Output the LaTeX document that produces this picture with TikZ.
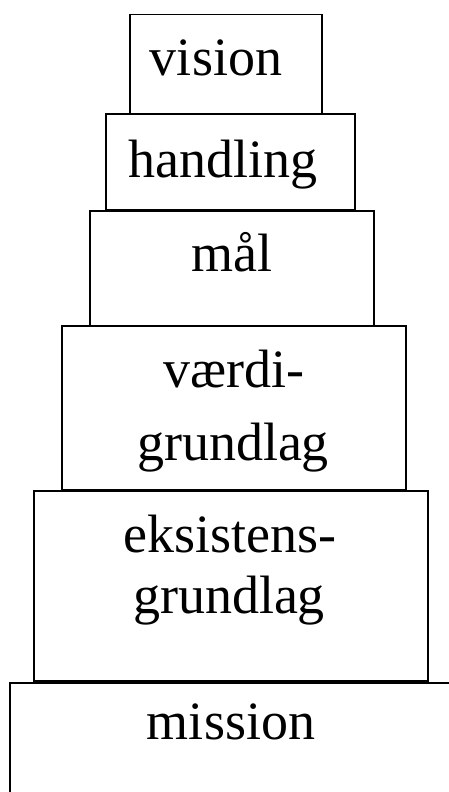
\documentclass[tikz,border=0pt]{standalone}
\usepackage{fontspec}
\setmainfont{Liberation Serif}
\usepackage{tikz}

\begin{document}
\begin{tikzpicture}[x=1pt, y=-1pt, tier/.style = {shape=rectangle, draw, line width=1.2pt, inner sep=0pt}, word/.style = {anchor=base, inner sep=0pt, font=\fontsize{54}{60}\selectfont}]

\clip (0,0) rectangle (449,792);

\node (visionBox) [tier, minimum width=192pt, minimum height=99pt] at (226,64.3) {};
\node (handlingBox) [tier, minimum width=249pt, minimum height=96pt] at (230.5,162) {};
\node (maalBox) [tier, minimum width=284pt, minimum height=115pt] at (232,268.5) {};
\node (vaerdiBox) [tier, minimum width=344pt, minimum height=164pt] at (234,408) {};
\node (eksistensBox) [tier, minimum width=394pt, minimum height=190pt] at (231,586) {};
\node (missionBox) [tier, minimum width=470pt, minimum height=147pt] at (245,756.5) {};

\node (vision) [word] at (216,75) {vision};
\node (handling) [word] at (223,177) {handling};
\node (maal) [word] at (232,271) {mål};
\node (vaerdiA) [word] at (234,387) {værdi-};
\node (vaerdiB) [word] at (233,460) {grundlag};
\node (eksistensA) [word] at (230,552) {eksistens-};
\node (eksistensB) [word] at (229,613) {grundlag};
\node (mission) [word] at (231,739) {mission};
\end{tikzpicture}
\end{document}
